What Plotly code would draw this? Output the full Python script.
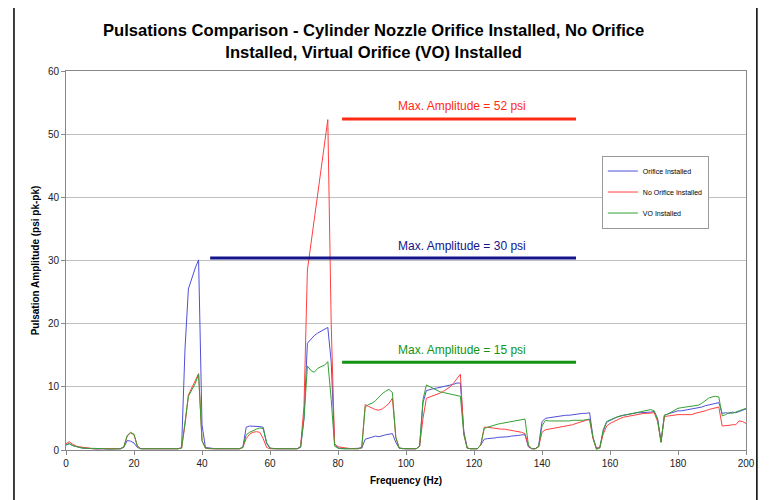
import plotly.graph_objects as go

freq = list(range(0, 201))

orifice = [
    0.8, 1.0, 0.7, 0.5, 0.4, 0.3, 0.3, 0.2, 0.2, 0.15,
    0.2, 0.2, 0.15, 0.2, 0.2, 0.2, 0.2, 0.4, 1.5, 1.4,
    1.1, 0.4, 0.2, 0.2, 0.15, 0.2, 0.2, 0.2, 0.15, 0.2,
    0.2, 0.2, 0.2, 0.2, 0.4, 16.0, 25.5, 27.3, 28.8, 30.1,
    4.0, 0.4, 0.3, 0.2, 0.2, 0.2, 0.15, 0.2, 0.2, 0.2,
    0.2, 0.2, 0.4, 3.6, 3.8, 3.8, 3.8, 3.7, 3.6, 1.0,
    0.3, 0.2, 0.2, 0.2, 0.2, 0.15, 0.2, 0.2, 0.2, 0.4,
    5.0, 16.9, 17.5, 18.1, 18.5, 18.8, 19.1, 19.4, 14.0, 1.0,
    0.3, 0.2, 0.2, 0.2, 0.2, 0.2, 0.2, 0.3, 1.7, 1.9,
    2.0, 2.2, 2.1, 2.3, 2.4, 2.5, 2.6, 1.2, 0.3, 0.2,
    0.2, 0.2, 0.2, 0.2, 0.6, 7.5, 9.4, 9.6, 9.7, 9.8,
    9.9, 10.1, 10.2, 10.3, 10.4, 10.6, 10.6, 3.0, 0.3, 0.2,
    0.2, 0.2, 0.8, 1.7, 1.8, 1.8, 1.9, 2.0, 2.0, 2.1,
    2.1, 2.2, 2.2, 2.3, 2.4, 2.4, 0.5, 0.2, 0.2, 0.6,
    4.5, 5.0, 5.1, 5.2, 5.3, 5.3, 5.4, 5.5, 5.5, 5.6,
    5.7, 5.8, 5.8, 5.8, 5.9, 2.0, 0.3, 0.4, 3.0, 4.4,
    4.7, 5.0, 5.2, 5.4, 5.5, 5.7, 5.8, 5.8, 5.9, 5.9,
    5.9, 6.0, 6.0, 6.1, 5.0, 1.3, 5.5, 5.7, 5.9, 6.1,
    6.2, 6.2, 6.3, 6.3, 6.4, 6.5, 6.6, 6.8, 7.0, 7.1,
    7.2, 7.3, 7.5, 5.8, 5.9, 5.8, 6.0, 5.9, 6.1, 6.3,
    6.5,
]

no_orifice = [
    1.0, 1.3, 0.9, 0.6, 0.5, 0.4, 0.4, 0.3, 0.2, 0.2,
    0.2, 0.15, 0.2, 0.2, 0.2, 0.2, 0.2, 0.5, 2.2, 2.7,
    2.4, 0.6, 0.2, 0.2, 0.2, 0.2, 0.15, 0.2, 0.2, 0.2,
    0.2, 0.2, 0.2, 0.2, 0.3, 4.0, 8.7, 9.8, 10.8, 12.1,
    1.5, 0.3, 0.2, 0.2, 0.2, 0.2, 0.2, 0.2, 0.15, 0.2,
    0.2, 0.2, 0.4, 1.8, 2.5, 2.8, 2.9, 2.8, 1.8, 0.4,
    0.2, 0.2, 0.2, 0.2, 0.2, 0.2, 0.2, 0.2, 0.2, 0.6,
    7.0, 28.5, 32.5, 36.5, 40.5, 44.5, 48.0, 52.3, 20.0, 1.0,
    0.5, 0.4, 0.3, 0.3, 0.2, 0.2, 0.2, 0.5, 7.2, 6.9,
    6.6, 6.4, 6.3, 6.5, 6.9, 7.4, 8.2, 2.0, 0.3, 0.2,
    0.2, 0.2, 0.2, 0.2, 0.6, 5.0, 8.2, 8.4, 8.6, 8.7,
    9.0, 9.3, 9.6, 10.0, 10.6, 11.4, 12.0, 2.5, 0.3, 0.2,
    0.2, 0.2, 0.8, 3.6, 3.6, 3.5, 3.5, 3.4, 3.3, 3.3,
    3.2, 3.2, 3.1, 3.0, 2.8, 2.6, 0.6, 0.2, 0.2, 0.5,
    2.8, 3.2, 3.3, 3.4, 3.5, 3.5, 3.6, 3.7, 3.9, 4.0,
    4.2, 4.4, 4.5, 4.7, 4.8, 1.8, 0.2, 0.4, 2.5, 3.8,
    4.2, 4.5, 4.8, 5.0, 5.2, 5.3, 5.4, 5.6, 5.7, 5.7,
    5.8, 5.8, 5.9, 5.9, 4.5, 1.3, 5.3, 5.4, 5.5, 5.6,
    5.6, 5.6, 5.6, 5.7, 5.6, 5.8, 5.9, 6.0, 6.2, 6.4,
    6.5, 6.7, 6.8, 3.8, 3.8, 3.9, 4.0, 4.0, 4.6, 4.5,
    4.2,
]

vo = [
    0.8, 1.0, 0.7, 0.5, 0.4, 0.3, 0.3, 0.2, 0.2, 0.2,
    0.2, 0.2, 0.2, 0.15, 0.2, 0.2, 0.2, 0.5, 2.3, 2.8,
    2.5, 0.6, 0.2, 0.2, 0.2, 0.2, 0.2, 0.15, 0.2, 0.2,
    0.2, 0.2, 0.2, 0.2, 0.3, 4.0, 8.5, 9.5, 10.5, 12.0,
    1.5, 0.3, 0.2, 0.2, 0.2, 0.2, 0.2, 0.2, 0.2, 0.2,
    0.2, 0.2, 0.4, 2.4, 2.8, 3.1, 3.3, 3.5, 3.4, 1.2,
    0.3, 0.2, 0.2, 0.2, 0.2, 0.2, 0.2, 0.2, 0.2, 0.5,
    5.0, 13.3, 12.6, 12.3, 12.9, 13.2, 13.4, 14.0, 8.0, 0.6,
    0.3, 0.2, 0.2, 0.2, 0.2, 0.2, 0.2, 0.4, 6.8, 7.2,
    7.4, 7.8, 8.4, 8.9, 9.3, 9.6, 9.1, 2.0, 0.3, 0.2,
    0.2, 0.2, 0.2, 0.2, 0.6, 8.0, 10.3, 10.0, 9.7, 9.4,
    9.2, 9.1, 9.0, 8.9, 8.8, 8.6, 8.5, 2.5, 0.3, 0.2,
    0.2, 0.2, 0.8, 3.4, 3.6, 3.8, 4.0, 4.1, 4.2, 4.3,
    4.4, 4.5, 4.6, 4.6, 4.7, 4.9, 0.8, 0.2, 0.2, 0.5,
    3.8, 4.7, 4.6, 4.6, 4.5, 4.5, 4.6, 4.5, 4.6, 4.7,
    4.7, 4.6, 4.7, 4.8, 4.9, 2.0, 0.1, 0.3, 3.2, 4.5,
    4.8, 5.0, 5.2, 5.4, 5.5, 5.6, 5.7, 5.8, 5.9, 6.0,
    6.1, 6.3, 6.4, 6.2, 4.8, 1.2, 5.5, 5.7, 6.0, 6.3,
    6.6, 6.7, 6.8, 6.8, 6.9, 7.0, 7.1, 7.4, 7.8, 8.2,
    8.4, 8.5, 8.4, 5.4, 5.6, 5.9, 5.8, 6.0, 6.3, 6.5,
    6.6,
]

series_names = ["Orifice Installed", "No Orifice Installed", "VO Installed"]
series_colors = ["#5050d8", "#ff4040", "#33a033"]

# Max amplitude reference lines
max_labels = [52, 30, 15]
max_levels = [52.4, 30.4, 13.9]
max_start = [81.2, 42.4, 81.2]
max_end = [150, 150, 150]
max_text_y = [54.4, 32.3, 15.9]
max_text_x = [116.5, 116.5, 116.5]
max_colors = ["#ff2a14", "#14148c", "#139413"]

FONT = "Arial, Liberation Sans, sans-serif"

fig = go.Figure()
for name, ys, col in zip(series_names, [orifice, no_orifice, vo], series_colors):
    fig.add_trace(go.Scatter(
        x=freq, y=ys, mode="lines", name=name, legendgroup=name,
        line=dict(color=col, width=1),
    ))

for lvl, x0, x1, col in zip(max_levels, max_start, max_end, max_colors):
    fig.add_trace(go.Scatter(
        x=[x0, x1], y=[lvl, lvl], mode="lines", showlegend=False,
        line=dict(color=col, width=3), hoverinfo="skip",
    ))

for lab, tx, ty, col in zip(max_labels, max_text_x, max_text_y, max_colors):
    fig.add_annotation(x=tx, y=ty, xref="x", yref="y",
                       text=f"Max. Amplitude = {lab} psi", showarrow=False,
                       font=dict(family=FONT, size=12, color=col))

# title
fig.add_annotation(
    xref="paper", yref="paper", x=0.452, y=1.079, xanchor="center", yanchor="middle",
    text="<b>Pulsations Comparison - Cylinder Nozzle Orifice Installed, No Orifice<br>Installed, Virtual Orifice (VO) Installed</b>",
    showarrow=False, font=dict(family=FONT, size=16.6, color="#000000"),
)

# outer border
fig.add_shape(type="rect", xref="paper", yref="paper",
              x0=-0.0765, x1=1.016, y0=-0.2, y1=1.2,
              line=dict(color="#000000", width=1.5), layer="above")

fig.update_layout(
    width=763, height=492,
    margin=dict(l=58, r=25, t=63, b=50),
    paper_bgcolor="white", plot_bgcolor="white",
    font=dict(family=FONT, size=10, color="#222222"),
    showlegend=True,
    legend=dict(
        x=0.788, y=0.777, xanchor="left", yanchor="top",
        bgcolor="white", bordercolor="#999999", borderwidth=1,
        font=dict(family=FONT, size=7, color="#000000"),
        tracegroupgap=2, traceorder="grouped",
    ),
    xaxis=dict(
        range=[0, 200], tickmode="linear", tick0=0, dtick=20,
        showgrid=False, zeroline=False,
        showline=True, linecolor="#888888", linewidth=1, mirror=True,
        ticks="outside", ticklen=4, tickcolor="#888888",
        tickfont=dict(family=FONT, size=10, color="#222222"),
        title=dict(text="<b>Frequency (Hz)</b>", font=dict(family=FONT, size=10, color="#000000"), standoff=8),
    ),
    yaxis=dict(
        range=[0, 60], tickmode="linear", tick0=0, dtick=10,
        showgrid=True, gridcolor="#c0c0c0", gridwidth=1, zeroline=False,
        showline=True, linecolor="#888888", linewidth=1, mirror=True,
        ticks="outside", ticklen=4, tickcolor="#888888",
        tickfont=dict(family=FONT, size=10, color="#222222"),
        title=dict(text="<b>Pulsation Amplitude (psi pk-pk)</b>", font=dict(family=FONT, size=10, color="#000000"), standoff=6),
    ),
)

fig.write_html("out.html")
